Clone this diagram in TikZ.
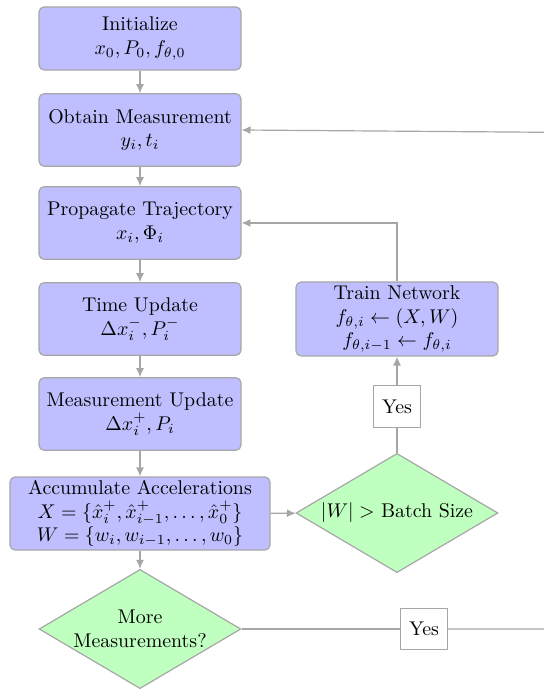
\documentclass[tikz,border=0pt]{standalone}
\usetikzlibrary{shapes.geometric,arrows.meta}
\tikzset{
  proc/.style={draw=black!35, fill=blue!25, rounded corners=2.5pt, line width=0.6pt,
    align=center, inner sep=0pt, minimum width=101.6pt, minimum height=36.5pt},
  decide/.style={draw=black!35, fill=green!25, diamond, inner sep=0pt, line width=0.6pt,
    minimum width=101.6pt, minimum height=60pt},
  yesbox/.style={draw=black!35, fill=white, line width=0.6pt,
    minimum width=23.6pt, minimum height=21pt, inner sep=0pt},
  conn/.style={draw=black!35, line width=0.6pt},
  arr/.style={conn, -{Latex[length=4.5pt,width=4pt]}},
}
\begin{document}
\begin{tikzpicture}[x=0.5032pt, y=-0.5032pt]
  \useasboundingbox (0,0) rectangle (543,690);

  % main column
  \node[proc, minimum height=31.7pt] (init) at (140,38.5) {Initialize\\$x_0, P_0, f_{\theta,0}$};
  \node[proc] (obtain) at (140,130) {Obtain Measurement\\$y_i, t_i$};
  \node[proc] (prop) at (140,223) {Propagate Trajectory\\$x_i, \Phi_i$};
  \node[proc] (time) at (140,319) {Time Update\\$\Delta x_i^-, P_i^-$};
  \node[proc] (meas) at (140,414) {Measurement Update\\$\Delta x_i^+, P_i$};
  \node[proc, minimum width=130.8pt, minimum height=36.7pt] (acc) at (140,513.5)
    {Accumulate Accelerations\\$X = \{\hat{x}_i^+, \hat{x}_{i-1}^+, \ldots, \hat{x}_0^+\}$\\$W = \{w_i, w_{i-1}, \ldots, w_0\}$};
  \node[decide, label={[align=center]center:More\\Measurements?}] (more) at (140,629) {};

  % training branch
  \node[decide, label={center:$|W| >$ Batch Size}] (batch) at (397,513) {};
  \node[yesbox] (yes1) at (397,406.5) {Yes};
  \node[proc, minimum height=37.2pt] (train) at (397,319)
    {Train Network\\$f_{\theta,i} \leftarrow (X, W)$\\$f_{\theta,i-1} \leftarrow f_{\theta,i}$};

  % loop back
  \node[yesbox] (yes2) at (424,629) {Yes};
  \coordinate (rt1) at (560,629);
  \coordinate (rt2) at (560,132.4);

  % connectors
  \draw[arr] (init) -- (obtain);
  \draw[arr] (obtain) -- (prop);
  \draw[arr] (prop) -- (time);
  \draw[arr] (time) -- (meas);
  \draw[arr] (meas) -- (acc);
  \draw[arr] (acc) -- (more);
  \draw[arr] (acc) -- (batch);
  \draw[conn] (batch) -- (yes1);
  \draw[arr] (yes1) -- (train);
  \draw[arr] (train.north) |- (prop.east);
  \draw[conn] (more) -- (yes2);
  \draw[arr] (yes2) -- (rt1) -- (rt2) -- (obtain.east);
\end{tikzpicture}
\end{document}
